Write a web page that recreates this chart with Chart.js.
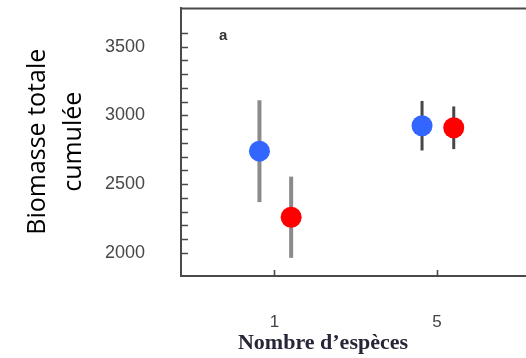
<!DOCTYPE html>
<html>
<head>
<meta charset="utf-8">
<script src="https://cdn.jsdelivr.net/npm/chart.js@4/dist/chart.umd.min.js"></script>
<style>
  html, body { margin: 0; padding: 0; background: #fff; overflow: hidden; width: 526px; height: 358px; }
  /* canvas is a bit larger than the window: the dots' overflow padding falls outside */
  #chart { display: block; margin-top: -3px; }
</style>
</head>
<body>
<canvas id="chart" width="537" height="361"></canvas>
<script>
// ===================== DATA =====================
const speciesCounts = [1, 5];
const blueMeans = [2740, 2925];
const blueErrors = [370, 180];
const redMeans = [2260, 2910];
const redErrors = [295, 155];
const yLabelTicks = [2000, 2500, 3000, 3500];

// ===================== STYLE =====================
const blueOffset = -0.37;
const redOffset = 0.41;
const errorColors = ['#8a8a8a', '#474747'];
const errorWidths = [4, 3];
const frameColor = '#4a4a4a';
const shiftY = 3; // canvas is moved up by this much

function points(means, offset) {
    return speciesCounts.map((c, i) => ({ x: c + offset, y: means[i] }));
}

// error bars drawn under the dots
const errorBars = {
    id: 'errorBars',
    beforeDatasetsDraw(chart) {
        const { ctx, scales: { x, y } } = chart;
        ctx.save();
        const groups = [[blueMeans, blueErrors, blueOffset], [redMeans, redErrors, redOffset]];
        groups.forEach(([means, errs, off]) => {
            speciesCounts.forEach((c, i) => {
                const px = x.getPixelForValue(c + off);
                ctx.strokeStyle = errorColors[i];
                ctx.lineWidth = errorWidths[i];
                ctx.beginPath();
                ctx.moveTo(px, y.getPixelForValue(means[i] + errs[i]));
                ctx.lineTo(px, y.getPixelForValue(means[i] - errs[i]));
                ctx.stroke();
            });
        });
        ctx.restore();
    }
};

// top border, inward ticks, panel letter and x title
const frame = {
    id: 'frame',
    afterDraw(chart) {
        const { ctx, chartArea: a, scales: { x, y } } = chart;
        ctx.save();
        ctx.strokeStyle = frameColor;
        ctx.lineWidth = 2;
        ctx.beginPath();
        ctx.moveTo(a.left - 1, a.top + 1);
        ctx.lineTo(a.right + 20, a.top + 1);
        ctx.stroke();

        ctx.lineWidth = 1.6;
        ctx.beginPath();
        y.ticks.forEach(t => {
            if (t.value % 100 !== 0) return;
            const py = Math.round(y.getPixelForValue(t.value)) + 0.5;
            ctx.moveTo(a.left, py);
            ctx.lineTo(a.left + 7, py);
        });
        x.ticks.forEach(t => {
            const px = Math.round(x.getPixelForValue(t.value)) + 0.5;
            ctx.moveTo(px, a.bottom);
            ctx.lineTo(px, a.bottom - 6);
        });
        ctx.stroke();

        ctx.fillStyle = '#333';
        ctx.font = 'bold 15px "Liberation Sans"';
        ctx.textAlign = 'left';
        ctx.textBaseline = 'alphabetic';
        ctx.fillText('a', 219, 40 + shiftY);

        ctx.fillStyle = '#262636';
        ctx.font = 'bold 22px "Liberation Serif"';
        ctx.textAlign = 'center';
        ctx.textBaseline = 'middle';
        ctx.fillText('Nombre d\u2019esp\u00e8ces', 323, 343 + shiftY);
        ctx.restore();
    }
};

new Chart(document.getElementById('chart'), {
    type: 'scatter',
    data: {
        datasets: [
            { data: points(blueMeans, blueOffset), backgroundColor: '#3366ff', borderWidth: 0, pointRadius: 10.5 },
            { data: points(redMeans, redOffset), backgroundColor: '#ff0000', borderWidth: 0, pointRadius: 10.5 }
        ]
    },
    options: {
        responsive: false,
        animation: false,
        layout: { padding: 0 },
        plugins: { legend: { display: false }, tooltip: { enabled: false } },
        scales: {
            x: {
                type: 'linear',
                min: -1.3,
                max: 7.2,
                afterBuildTicks: s => { s.ticks = speciesCounts.map(v => ({ value: v })); },
                afterFit: s => { s.height = 82; s.paddingLeft = 0; s.paddingRight = 0; },
                grid: { display: false },
                border: { display: true, color: frameColor, width: 2 },
                ticks: {
                    padding: 28,
                    color: '#444',
                    autoSkip: false,
                    maxRotation: 0,
                    font: { family: 'Liberation Sans', size: 17 },
                    callback: v => String(v)
                }
            },
            y: {
                min: 1833,
                max: 3784,
                afterFit: s => { s.width = 181; s.paddingTop = 0; s.paddingBottom = 0; },
                grid: { display: false },
                border: { display: true, color: frameColor, width: 2 },
                ticks: {
                    stepSize: 100,
                    padding: 28,
                    color: '#484848',
                    autoSkip: false,
                    font: { family: 'Liberation Sans', size: 18 },
                    callback: v => yLabelTicks.includes(v) ? String(v) : ''
                },
                title: {
                    display: true,
                    text: ['Biomasse totale', 'cumul\u00e9e'],
                    color: '#000',
                    font: { family: 'Open Sans', size: 25, lineHeight: 1.44 },
                    padding: { top: 20, bottom: 0 }
                }
            }
        }
    },
    plugins: [errorBars, frame]
});
</script>
</body>
</html>
